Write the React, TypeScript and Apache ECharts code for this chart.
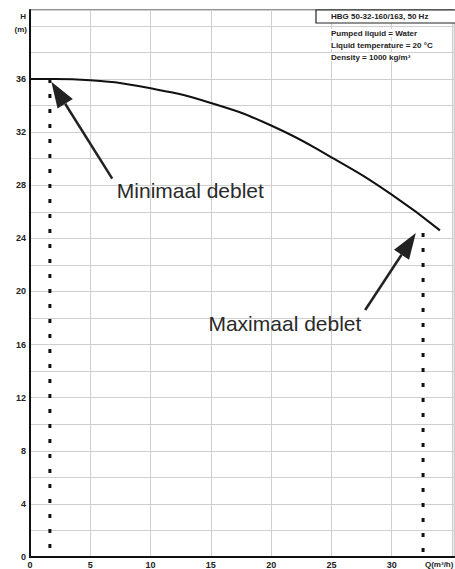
import React, { useEffect, useRef } from "react";
import * as echarts from "echarts";

// Pump curve (Q in m³/h, H in m)
const qValues = [0, 2, 5, 10, 15, 20, 25, 30, 34];
const hValues = [36, 36, 35.9, 35.3, 34.2, 32.5, 30.1, 27.3, 24.6];

// Operating limits (dashed verticals)
const minFlow = { q: 1.65, hTop: 36 };
const maxFlow = { q: 32.6, hTop: 24.4 };

// Annotation arrows: [tailQ, tailH, tipQ, tipH]
const minArrow = [6.82, 28.5, 1.77, 35.8];
const maxArrow = [27.8, 18.6, 32.0, 24.4];
const minLabel = "Minimaal deblet";
const maxLabel = "Maximaal deblet";
const minLabelPos = [7.2, 27.6];
const maxLabelPos = [14.8, 17.6];

const pumpTitle = "HBG 50-32-160/163, 50 Hz";
const infoLines = ["Pumped liquid = Water", "Liquid temperature = 20 °C", "Density = 1000 kg/m³"];

const yTickStep = 2;
const yLabelStep = 4;
const yLabelMax = 36;
const xTickStep = 5;
const xLabelMax = 30;
const xMax = 35.2;
const yMax = 41.2;

const FONT = "'Liberation Sans', Arial, sans-serif";

export default function App() {
  const ref = useRef<HTMLDivElement>(null);
  useEffect(() => {
    document.body.style.margin = "0";
    const chart = echarts.init(ref.current!, null, { renderer: "svg" });
    const base: any = {
      animation: false,
      backgroundColor: "#fff",
      grid: { left: 30, right: 0, top: 10, bottom: 12, show: true, borderColor: "#222", borderWidth: 1 },
      xAxis: {
        type: "value",
        min: 0,
        max: xMax,
        interval: xTickStep,
        axisLine: { show: true, onZero: false, lineStyle: { color: "#111", width: 2 } },
        axisTick: { show: false },
        splitLine: { show: true, lineStyle: { color: "#cfcfcf", width: 1 } },
        axisLabel: {
          fontFamily: FONT,
          fontSize: 9,
          fontWeight: "bold",
          color: "#222",
          margin: 3,
          showMaxLabel: false,
          formatter: (v: number) => (v % xTickStep === 0 && v <= xLabelMax ? String(v) : ""),
        },
      },
      yAxis: {
        type: "value",
        min: 0,
        max: yMax,
        interval: yTickStep,
        axisLine: { show: true, onZero: false, lineStyle: { color: "#111", width: 2 } },
        axisTick: { show: false },
        splitLine: { show: true, lineStyle: { color: "#cfcfcf", width: 1 } },
        axisLabel: {
          fontFamily: FONT,
          fontSize: 9,
          fontWeight: "bold",
          color: "#222",
          margin: 4,
          showMaxLabel: false,
          formatter: (v: number) => (v % yLabelStep === 0 && v <= yLabelMax ? String(v) : ""),
        },
      },
      series: [
        {
          type: "line",
          data: qValues.map((q, i) => [q, hValues[i]]),
          smooth: true,
          symbol: "none",
          lineStyle: { color: "#111", width: 2 },
          z: 5,
        },
        {
          type: "line",
          data: [
            [minFlow.q, minFlow.hTop],
            [minFlow.q, 0],
          ],
          symbol: "none",
          lineStyle: { color: "#111", width: 3, type: [4, 11] },
        },
        {
          type: "line",
          data: [
            [maxFlow.q, maxFlow.hTop],
            [maxFlow.q, 0],
          ],
          symbol: "none",
          lineStyle: { color: "#111", width: 3, type: [4, 11] },
        },
      ],
    };
    chart.setOption(base);

    const px = (q: number, h: number) => chart.convertToPixel({ gridIndex: 0 }, [q, h]) as number[];
    const arrow = (a: number[]) => {
      const t = px(a[0], a[1]);
      const p = px(a[2], a[3]);
      const dx = p[0] - t[0];
      const dy = p[1] - t[1];
      const len = Math.sqrt(dx * dx + dy * dy);
      const ux = dx / len;
      const uy = dy / len;
      const headLen = 26;
      const headW = 9;
      const bx = p[0] - ux * headLen;
      const by = p[1] - uy * headLen;
      return [
        {
          type: "line",
          shape: { x1: t[0], y1: t[1], x2: bx, y2: by },
          style: { stroke: "#222", lineWidth: 2.5 },
          z: 20,
        },
        {
          type: "polygon",
          shape: {
            points: [
              [p[0], p[1]],
              [bx - uy * headW, by + ux * headW],
              [bx + uy * headW, by - ux * headW],
            ],
          },
          style: { fill: "#222" },
          z: 20,
        },
      ];
    };
    const lp1 = px(minLabelPos[0], minLabelPos[1]);
    const lp2 = px(maxLabelPos[0], maxLabelPos[1]);
    const qLabelPos = px(xMax, 0);

    chart.setOption({
      graphic: [
        ...arrow(minArrow),
        ...arrow(maxArrow),
        {
          type: "text",
          x: lp1[0],
          y: lp1[1],
          style: { text: minLabel, font: `21px ${FONT}`, fill: "#2a2a2a", verticalAlign: "middle" },
          z: 20,
        },
        {
          type: "text",
          x: lp2[0],
          y: lp2[1],
          style: { text: maxLabel, font: `21px ${FONT}`, fill: "#2a2a2a", verticalAlign: "middle" },
          z: 20,
        },
        {
          type: "rect",
          shape: { x: 316, y: 10, width: 145, height: 13 },
          style: { fill: "#fff", stroke: "#222", lineWidth: 1.2 },
          z: 20,
        },
        {
          type: "text",
          x: 331,
          y: 16.5,
          style: { text: pumpTitle, font: `bold 8px ${FONT}`, fill: "#222", verticalAlign: "middle" },
          z: 21,
        },
        ...infoLines.map((t, i) => ({
          type: "text",
          x: 331,
          y: 33 + i * 12,
          style: {
            text: t,
            font: `bold 8px ${FONT}`,
            fill: "#222",
            verticalAlign: "middle",
            backgroundColor: "#fff",
          },
          z: 21,
        })),
        {
          type: "text",
          x: 26,
          y: 16,
          style: { text: "H", font: `bold 8px ${FONT}`, fill: "#222", align: "right", verticalAlign: "middle" },
        },
        {
          type: "text",
          x: 27,
          y: 29,
          style: { text: "(m)", font: `bold 8px ${FONT}`, fill: "#222", align: "right", verticalAlign: "middle" },
        },
        {
          type: "text",
          x: qLabelPos[0] - 1,
          y: 564,
          style: {
            text: "Q(m³/h)",
            font: `bold 8px ${FONT}`,
            fill: "#222",
            align: "right",
            verticalAlign: "middle",
          },
        },
      ],
    });
    return () => chart.dispose();
  }, []);
  return <div ref={ref} style={{ width: 455, height: 569 }} />;
}
